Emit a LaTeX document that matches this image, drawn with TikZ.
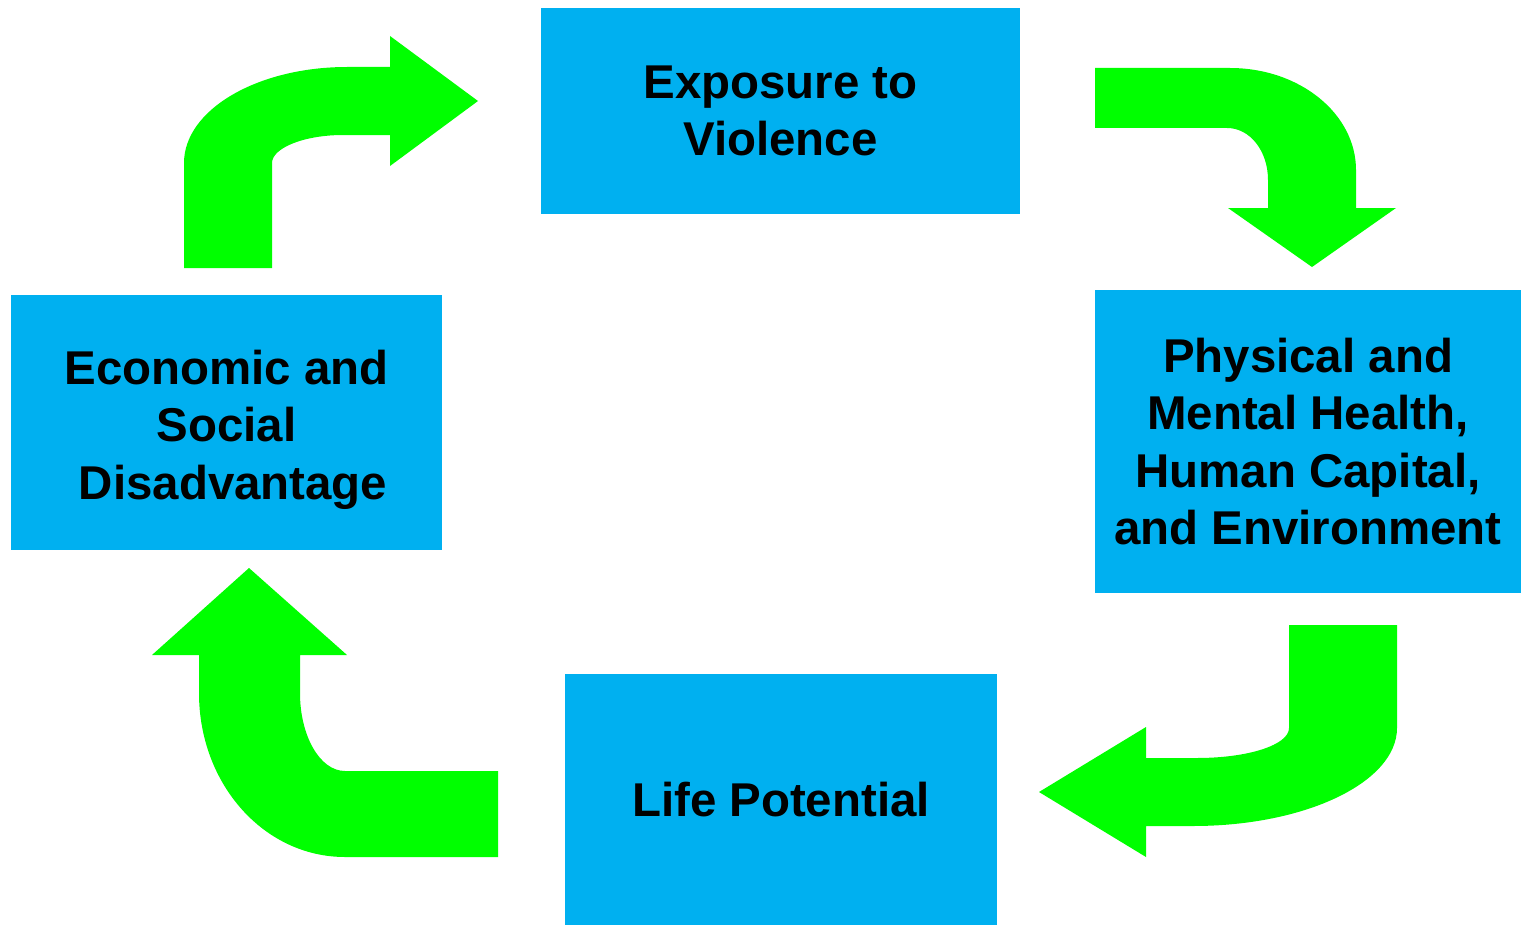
\documentclass[tikz,border=0pt]{standalone}
\usepackage{fontspec}
\setmainfont{Liberation Sans}
\usepackage{tikz}
\usetikzlibrary{shapes,arrows}
\definecolor{boxblue}{HTML}{00B0F0}
\definecolor{arrowgreen}{HTML}{00FF00}

\begin{document}
\begin{tikzpicture}[x=0.02cm,y=-0.02cm,
    box/.style={rectangle,fill=boxblue,inner sep=0pt,align=center,
        font=\fontsize{27}{32.7}\selectfont\bfseries},
    bigarrow/.style={fill=arrowgreen}]
                \useasboundingbox(0,0)rectangle(1521,926);
                % boxes
                \node[box,minimum width=9.58cm,minimum height=4.12cm](exposure) at (780.5,111){Exposure to\\Violence};
                \node[box,minimum width=8.52cm,minimum height=6.06cm](health) at (1308,441.5){Physical and\\Mental Health,\\Human Capital,\\and Environment};
                \node[box,minimum width=8.64cm,minimum height=5.02cm](life) at (781,799.5){Life Potential};
                \node[box,minimum width=8.62cm,minimum height=5.10cm](econ) at (226.5,422.5){};
                \node[box,fill=none](econtext) at ([yshift=-0.14cm]econ.center){Economic and\\Social\\\hspace*{0.28em}Disadvantage};
                % curved block arrows
                \fill[bigarrow](184,268)--(184,163).. controls +(0,-53) and +(-90,0) ..(347,67)--(390,67)--(390,36)--(478,101)
                    --(390,166)--(390,135)--(343,135).. controls +(-39,0) and +(0,-15) ..(272,163)--(272,268)--cycle;
                \fill[bigarrow](1095,68)--(1230,68).. controls +(70,0) and +(0,-56) ..(1356,170)--(1356,208)--(1396,208)--(1312,267)
                    --(1228,208)--(1268,208)--(1268,180).. controls +(0,-29) and +(23,0) ..(1227,128)--(1095,128)--cycle;
                \fill[bigarrow](1289,625)--(1397,625)--(1397,728).. controls +(0,54) and +(113,0) ..(1193,826)--(1146,826)--(1146,857)
                    --(1039,792)--(1146,727)--(1146,758)--(1197,758).. controls +(51,0) and +(0,17) ..(1289,728)--cycle;
                \fill[bigarrow](498,771)--(345,771).. controls +(-25,0) and +(0,43) ..(300,693)--(300,655)--(347,655)--(249,568)
                    --(152,655)--(199,655)--(199,693).. controls +(0,91) and +(-81,0) ..(345,857)--(498,857)--cycle;
\end{tikzpicture}
\end{document}
